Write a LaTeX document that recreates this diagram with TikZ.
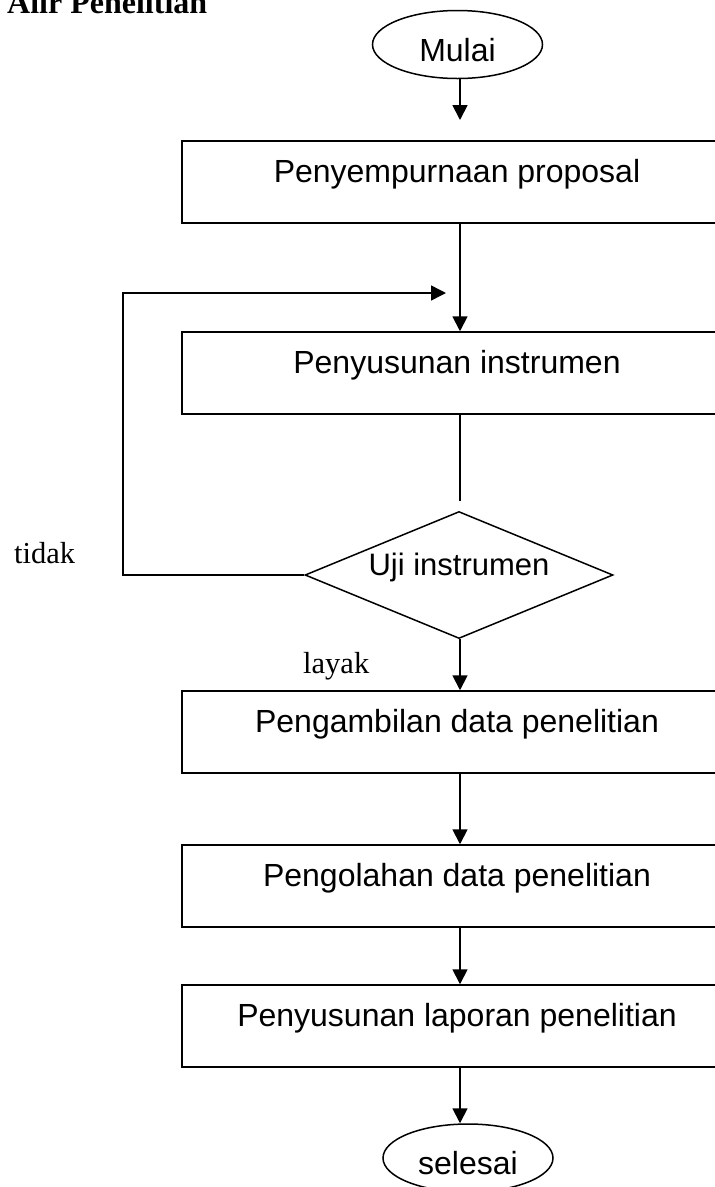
\documentclass[tikz,border=0pt]{standalone}
\usepackage{fontspec}
\setmainfont{Liberation Serif}
\newfontfamily\arialf{Liberation Sans}
\usetikzlibrary{shapes.geometric,arrows.meta}

\begin{document}
\begin{tikzpicture}[x=1pt,y=1pt,yscale=-1,
  proses/.style={draw,line width=1.5pt,rectangle,minimum width=550pt,inner sep=0pt,text height=41pt,text depth=41pt,font=\arialf\fontsize{32}{38}\selectfont},
  terminal/.style={draw,line width=1.5pt,ellipse,minimum width=170pt,minimum height=68pt,inner sep=0pt,text height=33pt,text depth=0pt,font=\arialf\fontsize{32}{38}\selectfont},
  keputusan/.style={draw,line width=1.5pt,diamond,shape aspect=2.4,minimum width=308pt,minimum height=127pt,inner sep=0pt,text height=20pt,text depth=20pt,font=\arialf\fontsize{31}{36}\selectfont},
  alur/.style={line width=1.8pt,-{Triangle[width=15pt,length=15pt]}},
  garis/.style={line width=1.5pt},
  ket/.style={inner sep=0pt,anchor=base west,font=\fontsize{30.5}{36}\selectfont}]
\path[use as bounding box] (0,0) rectangle (715,1187);
\clip (0,0) rectangle (715,1187);

% Text Node
\node[inner sep=0pt,anchor=base west,font=\bfseries\fontsize{32}{38}\selectfont] (judul) at (7,13) {Alir Penelitian};

%Shape: Ellipse
\node[terminal] (mulai) at (457.5,44.5) {Mulai};
%Shape: Rectangle
\node[proses] (proposal) at (457,182) {Penyempurnaan proposal};
\node[proses] (instrumen) at (457,373) {Penyusunan instrumen};
%Shape: Diamond
\node[keputusan] (uji) at (459,575) {Uji instrumen};
%Shape: Rectangle
\node[proses] (ambil) at (457,732) {Pengambilan data penelitian};
\node[proses] (olah) at (457,886) {Pengolahan data penelitian};
\node[proses] (laporan) at (457,1026) {Penyusunan laporan penelitian};
%Shape: Ellipse
\node[terminal] (selesai) at (468,1158) {selesai};

\coordinate (sumbu) at (460,0);
\coordinate (tipA) at (460,120);
\coordinate (ujung) at (460,501);
\coordinate (balikA) at (123,293);
\coordinate (balikB) at (446,293);

%Straight Lines
\draw[alur] (mulai.south -| sumbu) -- (tipA);
\draw[alur] (proposal.south -| sumbu) -- (instrumen.north -| sumbu);
\draw[garis] (instrumen.south -| sumbu) -- (ujung);
\draw[alur,line width=1.5pt] (uji.west) -| (balikA) -- (balikB);
\draw[alur] (uji.south -| sumbu) -- (ambil.north -| sumbu);
\draw[alur] (ambil.south -| sumbu) -- (olah.north -| sumbu);
\draw[alur] (olah.south -| sumbu) -- (laporan.north -| sumbu);
\draw[alur] (laporan.south -| sumbu) -- (selesai.north -| sumbu);

% Text Node
\node[ket] (tidak) at (14,563) {tidak};
% Text Node
\node[ket] (layak) at (303,673) {layak};

\end{tikzpicture}
\end{document}
